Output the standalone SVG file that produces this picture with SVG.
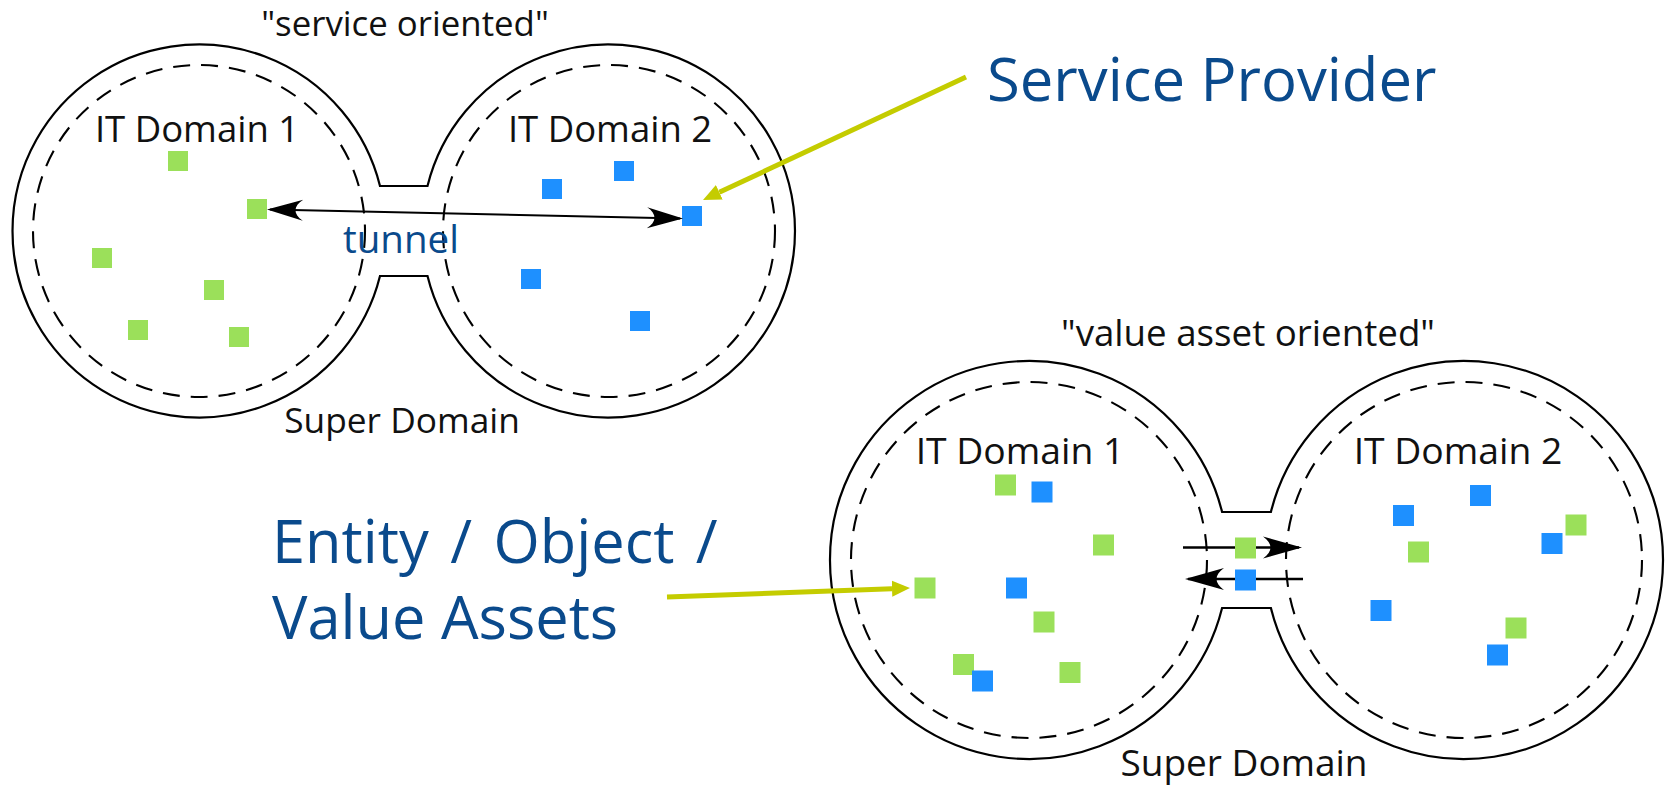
<svg xmlns="http://www.w3.org/2000/svg" width="1667" height="786" viewBox="0 0 1667 786">
  <style>
    .outline { fill: none; stroke: #000; stroke-width: 2.2; }
    .realm { fill: none; stroke: #000; stroke-width: 2.1; stroke-dasharray: 17 11; }
    .label { font-family: "Open Sans", "Noto Sans", sans-serif; fill: #111; text-anchor: middle; }
    .note { font-family: "Open Sans", "Noto Sans", sans-serif; fill: #0A4A8C; }
    .g { fill: #9BE05A; }
    .b { fill: #1E90FF; }
    .link { fill: none; stroke: #000; }
    .pointer { fill: none; stroke: #C4CC00; stroke-width: 5; }
  </style>
  <defs>
    <marker id="stealth" markerUnits="userSpaceOnUse" viewBox="-36 -11 40 22" refX="0" refY="0" markerWidth="40" markerHeight="22" orient="auto-start-reverse">
      <path d="M3,0 L-33,-10.5 C-23,-4 -23,4 -33,10.5 Z" fill="#000"/>
    </marker>
    <marker id="stealth-lg" markerUnits="userSpaceOnUse" viewBox="-40 -12 44 24" refX="0" refY="0" markerWidth="44" markerHeight="24" orient="auto-start-reverse">
      <path d="M3,0 L-36,-11 C-26,-4 -26,4 -36,11 Z" fill="#000"/>
    </marker>
    <marker id="tip" markerUnits="userSpaceOnUse" viewBox="0 -9 19 18" refX="0" refY="0" markerWidth="19" markerHeight="18" orient="auto">
      <path d="M18,0 L0,-8 L0,8 Z" fill="#C4CC00"/>
    </marker>
  </defs>

  <rect width="1667" height="786" fill="#fff"/>

  <!-- upper super domain: two IT domains joined by a neck -->
  <g id="super-domain-service">
    <path class="outline" d="M380,186 A186.5,186.5 0 1 0 380,276 L427.5,276 A186.5,186.5 0 1 0 427.5,186 Z"/>
    <text class="label" x="405" y="36" font-size="34.8">"service oriented"</text>
    <text class="label" x="402" y="433" font-size="35.3">Super Domain</text>
  </g>
  <g id="it-domain-1-service">
    <circle class="realm" cx="199" cy="231" r="166"/>
    <text class="label" x="197" y="142" font-size="36.5">IT Domain 1</text>
    <rect class="g" x="168" y="151" width="20" height="20"/>
    <rect class="g" x="247" y="199" width="20" height="20"/>
    <rect class="g" x="92" y="248" width="20" height="20"/>
    <rect class="g" x="204" y="280" width="20" height="20"/>
    <rect class="g" x="128" y="320" width="20" height="20"/>
    <rect class="g" x="229" y="327" width="20" height="20"/>
  </g>
  <g id="it-domain-2-service">
    <circle class="realm" cx="609" cy="231" r="166"/>
    <text class="label" x="610" y="142" font-size="36.5">IT Domain 2</text>
    <rect class="b" x="542" y="179" width="20" height="20"/>
    <rect class="b" x="614" y="161" width="20" height="20"/>
    <rect class="b" x="682" y="206" width="20" height="20"/>
    <rect class="b" x="521" y="269" width="20" height="20"/>
    <rect class="b" x="630" y="311" width="20" height="20"/>
  </g>

  <!-- lower super domain -->
  <g id="super-domain-asset">
    <path class="outline" d="M1222.1,512 A199,199 0 1 0 1222.1,608 L1270.9,608 A199,199 0 1 0 1270.9,512 Z"/>
    <text class="label" x="1248" y="346" font-size="36.7">"value asset oriented"</text>
    <text class="label" x="1244" y="776" font-size="37">Super Domain</text>
  </g>
  <g id="it-domain-1-asset">
    <circle class="realm" cx="1029" cy="560" r="178"/>
    <text class="label" x="1020" y="464" font-size="37.3">IT Domain 1</text>
    <rect class="g" x="995" y="474.5" width="21" height="21"/>
    <rect class="b" x="1031.5" y="481.5" width="21" height="21"/>
    <rect class="g" x="1093" y="534.5" width="21" height="21"/>
    <rect class="g" x="914.5" y="577.5" width="21" height="21"/>
    <rect class="b" x="1006" y="577.5" width="21" height="21"/>
    <rect class="g" x="1033.5" y="611.5" width="21" height="21"/>
    <rect class="g" x="953" y="654" width="21" height="21"/>
    <rect class="b" x="972" y="670.5" width="21" height="21"/>
    <rect class="g" x="1059.5" y="662" width="21" height="21"/>
  </g>
  <g id="it-domain-2-asset">
    <circle class="realm" cx="1464" cy="560" r="178"/>
    <text class="label" x="1458" y="464" font-size="37.3">IT Domain 2</text>
    <rect class="b" x="1470" y="485" width="21" height="21"/>
    <rect class="b" x="1393" y="505" width="21" height="21"/>
    <rect class="g" x="1565.5" y="514.5" width="21" height="21"/>
    <rect class="b" x="1541.5" y="533" width="21" height="21"/>
    <rect class="g" x="1408" y="541.5" width="21" height="21"/>
    <rect class="b" x="1370.5" y="600" width="21" height="21"/>
    <rect class="g" x="1505.5" y="617.5" width="21" height="21"/>
    <rect class="b" x="1487" y="644.5" width="21" height="21"/>
  </g>

  <!-- connectors -->
  <g id="connectors">
    <line class="link" stroke-width="2" x1="270" y1="209.6" x2="680" y2="218.4" marker-start="url(#stealth)" marker-end="url(#stealth)"/>
    <line class="link" stroke-width="2.6" x1="1183" y1="547.5" x2="1299" y2="547.5" marker-end="url(#stealth-lg)"/>
    <line class="link" stroke-width="2.6" x1="1303" y1="579" x2="1188" y2="579" marker-end="url(#stealth-lg)"/>
    <line class="pointer" x1="966" y1="77" x2="719.3" y2="192.3" marker-end="url(#tip)"/>
    <line class="pointer" x1="667" y1="597" x2="892" y2="588.7" marker-end="url(#tip)"/>
  </g>

  <!-- assets travelling between the domains sit above the arrows -->
  <g id="assets-in-transit">
    <rect class="g" x="1235" y="537.5" width="21" height="21"/>
    <rect class="b" x="1235" y="569.5" width="21" height="21"/>
  </g>

  <!-- annotations -->
  <g id="annotations">
    <text class="note" x="343" y="253" font-size="38.5">tunnel</text>
    <text class="note" x="987" y="101" font-size="59.8">Service Provider</text>
    <text class="note" x="272" y="563" font-size="59.5" word-spacing="6">Entity / Object /</text>
    <text class="note" x="272" y="639" font-size="59.5">Value Assets</text>
  </g>
</svg>
